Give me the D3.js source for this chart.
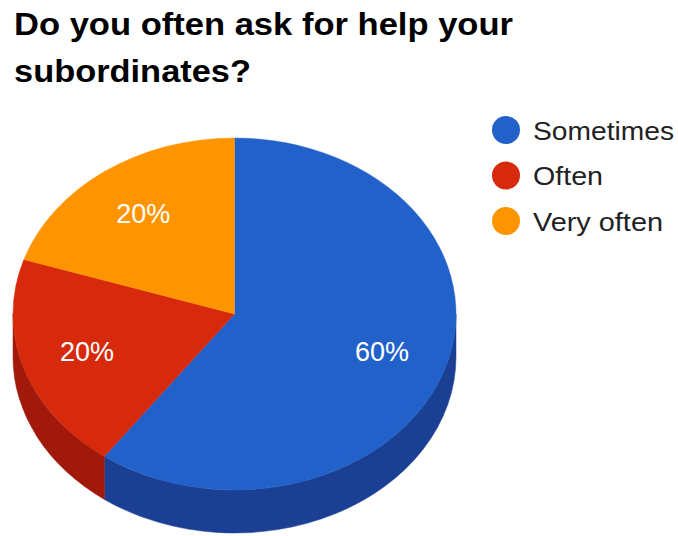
<!DOCTYPE html>
<html>
<head>
<meta charset="utf-8">
<script src="https://cdn.jsdelivr.net/npm/d3@7/dist/d3.min.js"></script>
<style>
  html, body { margin: 0; padding: 0; background: #ffffff; }
  svg { display: block; }
</style>
</head>
<body>
<svg id="chart" width="678" height="536"></svg>
<script>
// Survey answers and their shares
const categories = ["Sometimes", "Often", "Very often"];
const values = [60, 20, 20];
const topColors = ["#2161c9", "#d7290b", "#fe9400"];
const sideColors = ["#1a3f93", "#a0190b", "#b86a00"];
const titleLines = ["Do you often ask for help your", "subordinates?"];

const svg = d3.select("#chart");
const font = "'Liberation Sans', Arial, Helvetica, sans-serif";

// Title (two lines, bold)
const titleWidths = [499, 237];
svg.selectAll("text.title")
  .data(titleLines)
  .join("text")
  .attr("class", "title")
  .attr("x", 14)
  .attr("y", (d, i) => 35 + i * 46.5)
  .attr("font-family", font)
  .attr("font-weight", "bold")
  .attr("font-size", 31)
  .attr("fill", "#000")
  .attr("textLength", (d, i) => titleWidths[i])
  .attr("lengthAdjust", "spacingAndGlyphs")
  .text(d => d);

// 3D pie geometry
const cx = 234.5, cy = 314, rx = 221.5, ry = 176, depth = 43;
const pie = d3.pie().sort(null).value(d => d);
const arcs = pie(values);

const pt = (a, dy = 0) => [cx + rx * Math.sin(a), cy - ry * Math.cos(a) + dy];

// Side walls: only the front half (angles between PI/2 and 3PI/2) is visible
const sideG = svg.append("g");
arcs.forEach((d, i) => {
  const a0 = Math.max(d.startAngle, Math.PI / 2);
  const a1 = Math.min(d.endAngle, 3 * Math.PI / 2);
  if (a1 <= a0) return;
  const p0 = pt(a0), p1 = pt(a1), q1 = pt(a1, depth), q0 = pt(a0, depth);
  const path = `M${p0[0]},${p0[1]} A${rx},${ry} 0 0 1 ${p1[0]},${p1[1]}` +
               ` L${q1[0]},${q1[1]} A${rx},${ry} 0 0 0 ${q0[0]},${q0[1]} Z`;
  sideG.append("path")
    .attr("d", path)
    .attr("fill", sideColors[i])
    .attr("stroke", sideColors[i])
    .attr("stroke-width", 0.5);
});

// Top face: circular arcs squashed into an ellipse
const arcGen = d3.arc().innerRadius(0).outerRadius(rx);
const topG = svg.append("g")
  .attr("transform", `translate(${cx},${cy}) scale(1,${ry / rx})`);
topG.selectAll("path")
  .data(arcs)
  .join("path")
  .attr("d", arcGen)
  .attr("fill", (d, i) => topColors[i])
  .attr("stroke", (d, i) => topColors[i])
  .attr("stroke-width", 0.5);

// Percentage labels
const total = d3.sum(values);
svg.selectAll("text.pct")
  .data(arcs)
  .join("text")
  .attr("class", "pct")
  .attr("x", d => cx + rx * 0.7 * Math.sin((d.startAngle + d.endAngle) / 2))
  .attr("y", d => cy - ry * 0.7 * Math.cos((d.startAngle + d.endAngle) / 2) + 9)
  .attr("text-anchor", "middle")
  .attr("font-family", font)
  .attr("font-size", 27)
  .attr("fill", "#ffffff")
  .text(d => Math.round(d.value / total * 100) + "%");

// Legend
const legendWidths = [141, 70, 130];
const legend = svg.selectAll("g.legend")
  .data(categories)
  .join("g")
  .attr("class", "legend")
  .attr("transform", (d, i) => `translate(506,${130 + i * 45.5})`);
legend.append("circle")
  .attr("r", 14)
  .attr("fill", (d, i) => topColors[i]);
legend.append("text")
  .attr("x", 27)
  .attr("y", 9.5)
  .attr("font-family", font)
  .attr("font-size", 26)
  .attr("fill", "#222")
  .attr("textLength", (d, i) => legendWidths[i])
  .attr("lengthAdjust", "spacingAndGlyphs")
  .text(d => d);
</script>
</body>
</html>
